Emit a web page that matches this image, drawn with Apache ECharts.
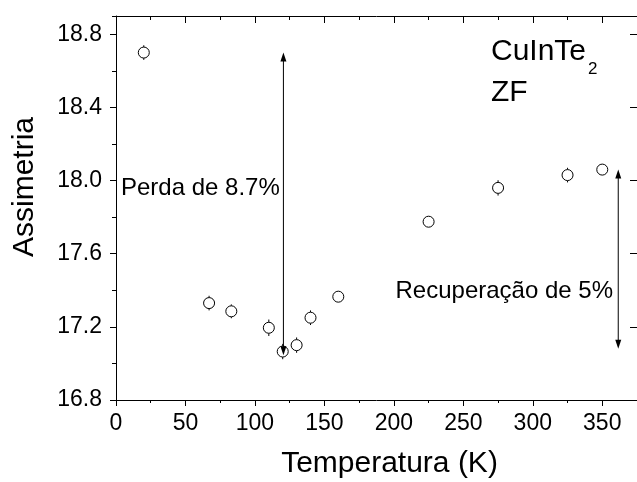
<!DOCTYPE html>
<html>
<head>
<meta charset="utf-8">
<script src="https://cdn.jsdelivr.net/npm/echarts@6/dist/echarts.min.js"></script>
<style>
  html, body { margin: 0; padding: 0; background: #fff; }
  #chart { width: 637px; height: 482px; }
</style>
</head>
<body>
<div id="chart"></div>
<script>
// Zero-field asymmetry of CuInTe2 versus temperature
const temperatura = [20, 67, 83, 110, 120, 130, 140, 160, 225, 275, 325, 350];
const assimetria = [18.70, 17.33, 17.285, 17.195, 17.065, 17.10, 17.25, 17.365, 17.775, 17.96, 18.03, 18.06];
const erro = [0.04, 0.04, 0.038, 0.045, 0.042, 0.042, 0.04, 0.03, 0.025, 0.042, 0.04, 0.025];

// Double-headed arrows: [temperature, lower end, upper end]
const setaPerda = [120.5, 17.045, 18.70];
const setaRecuperacao = [361.5, 17.08, 18.06];

// Axis ranges and tick steps
const xRange = [0, 375];
const xMajor = 50, xMinor = 25;
const yRange = [16.8, 18.9];
const yMajor = 0.4, yMinor = 0.2;

const FONT = '"Liberation Sans", Arial, sans-serif';
const BLACK = '#000';
const MARKER = 11;

const chart = echarts.init(document.getElementById('chart'), null, { renderer: 'canvas' });

function valueAxis(opts) {
  return Object.assign({
    type: 'value',
    gridIndex: 0,
    splitLine: { show: false },
    axisLine: { show: true, onZero: false, lineStyle: { color: BLACK, width: 1 } },
    axisTick: { show: true, lineStyle: { color: BLACK, width: 1 } },
    axisLabel: { show: false }
  }, opts);
}

const xAxes = [
  valueAxis({ position: 'bottom', min: xRange[0], max: xRange[1], interval: xMajor,
    axisTick: { show: true, inside: false, length: 6, lineStyle: { color: BLACK, width: 1 } },
    axisLabel: { show: true, color: BLACK, fontFamily: FONT, fontSize: 23, margin: 12, showMaxLabel: false } }),
  valueAxis({ position: 'bottom', min: xRange[0], max: xRange[1], interval: xMinor,
    axisLine: { show: false },
    axisTick: { show: true, inside: false, length: 3, lineStyle: { color: BLACK, width: 1 } } }),
  valueAxis({ position: 'top', min: xRange[0], max: xRange[1], interval: xMajor,
    axisTick: { show: true, inside: true, length: 7, lineStyle: { color: BLACK, width: 1 } } }),
  valueAxis({ position: 'top', min: xRange[0], max: xRange[1], interval: xMinor,
    axisLine: { show: false },
    axisTick: { show: true, inside: true, length: 4, lineStyle: { color: BLACK, width: 1 } } })
];

const yAxes = [
  valueAxis({ position: 'left', min: yRange[0], max: yRange[1], interval: yMajor,
    axisTick: { show: true, inside: false, length: 6, lineStyle: { color: BLACK, width: 1 } },
    axisLabel: { show: true, color: BLACK, fontFamily: FONT, fontSize: 23, margin: 14, showMaxLabel: false,
      formatter: v => v.toFixed(1) } }),
  valueAxis({ position: 'left', min: yRange[0], max: yRange[1], interval: yMinor,
    axisLine: { show: false },
    axisTick: { show: true, inside: false, length: 3, lineStyle: { color: BLACK, width: 1 } } }),
  valueAxis({ position: 'right', min: yRange[0], max: yRange[1], interval: yMajor,
    axisTick: { show: true, inside: true, length: 7, lineStyle: { color: BLACK, width: 1 } } }),
  valueAxis({ position: 'right', min: yRange[0], max: yRange[1], interval: yMinor,
    axisLine: { show: false },
    axisTick: { show: true, inside: true, length: 4, lineStyle: { color: BLACK, width: 1 } } })
];

const pontos = temperatura.map((t, i) => [t, assimetria[i]]);
const barras = temperatura.map((t, i) => [t, assimetria[i], erro[i]]);
const setas = [setaPerda, setaRecuperacao];

function textEl(text, x, y, size, align, extra) {
  return Object.assign({
    type: 'text', x: x, y: y, silent: true,
    style: { text: text, font: size + 'px ' + FONT, fill: BLACK, textAlign: align, textVerticalAlign: 'middle' }
  }, extra || {});
}

chart.setOption({
  animation: false,
  backgroundColor: '#fff',
  grid: { left: 116, top: 16, width: 523, height: 384, containLabel: false },
  xAxis: xAxes,
  yAxis: yAxes,
  series: [
    {
      // vertical error bars, drawn outside the open circle
      type: 'custom',
      xAxisIndex: 0, yAxisIndex: 0,
      z: 2,
      data: barras,
      encode: { x: 0, y: 1 },
      renderItem: function (params, api) {
        const x = api.value(0), y = api.value(1), e = api.value(2);
        const c = api.coord([x, y]);
        const lo = api.coord([x, y - e]);
        const hi = api.coord([x, y + e]);
        const r = MARKER / 2;
        const children = [];
        if (lo[1] > c[1] + r) {
          children.push({ type: 'line', shape: { x1: c[0], y1: c[1] + r, x2: lo[0], y2: lo[1] },
            style: { stroke: BLACK, lineWidth: 1 } });
        }
        if (hi[1] < c[1] - r) {
          children.push({ type: 'line', shape: { x1: c[0], y1: c[1] - r, x2: hi[0], y2: hi[1] },
            style: { stroke: BLACK, lineWidth: 1 } });
        }
        return { type: 'group', children: children };
      }
    },
    {
      type: 'scatter',
      xAxisIndex: 0, yAxisIndex: 0,
      z: 3,
      symbol: 'circle',
      symbolSize: MARKER,
      itemStyle: { color: '#fff', borderColor: BLACK, borderWidth: 1, opacity: 1 },
      emphasis: { disabled: true },
      data: pontos
    },
    {
      // double-headed arrows
      type: 'custom',
      xAxisIndex: 0, yAxisIndex: 0,
      z: 4,
      data: setas,
      encode: { x: 0, y: [1, 2] },
      renderItem: function (params, api) {
        const x = api.value(0);
        const pLo = api.coord([x, api.value(1)]);
        const pHi = api.coord([x, api.value(2)]);
        const hl = 9, hw = 3;
        return {
          type: 'group',
          children: [
            { type: 'line', shape: { x1: pLo[0], y1: pLo[1] - hl + 1, x2: pHi[0], y2: pHi[1] + hl - 1 },
              style: { stroke: BLACK, lineWidth: 1 } },
            { type: 'polygon', shape: { points: [[pHi[0], pHi[1]], [pHi[0] - hw, pHi[1] + hl], [pHi[0] + hw, pHi[1] + hl]] },
              style: { fill: BLACK } },
            { type: 'polygon', shape: { points: [[pLo[0], pLo[1]], [pLo[0] - hw, pLo[1] - hl], [pLo[0] + hw, pLo[1] - hl]] },
              style: { fill: BLACK } }
          ]
        };
      }
    }
  ],
  graphic: [
    textEl('Perda de 8.7%', 121, 188, 24, 'left'),
    textEl('Recuperação de 5%', 613, 291.5, 24, 'right'),
    textEl('CuInTe', 491, 51.7, 30, 'left'),
    textEl('2', 588, 69, 17, 'left'),
    textEl('ZF', 491, 92.7, 30, 'left'),
    textEl('Temperatura (K)', 389.5, 464, 30, 'center'),
    textEl('Assimetria', 25, 187, 30, 'center', { rotation: Math.PI / 2 })
  ]
});
</script>
</body>
</html>
